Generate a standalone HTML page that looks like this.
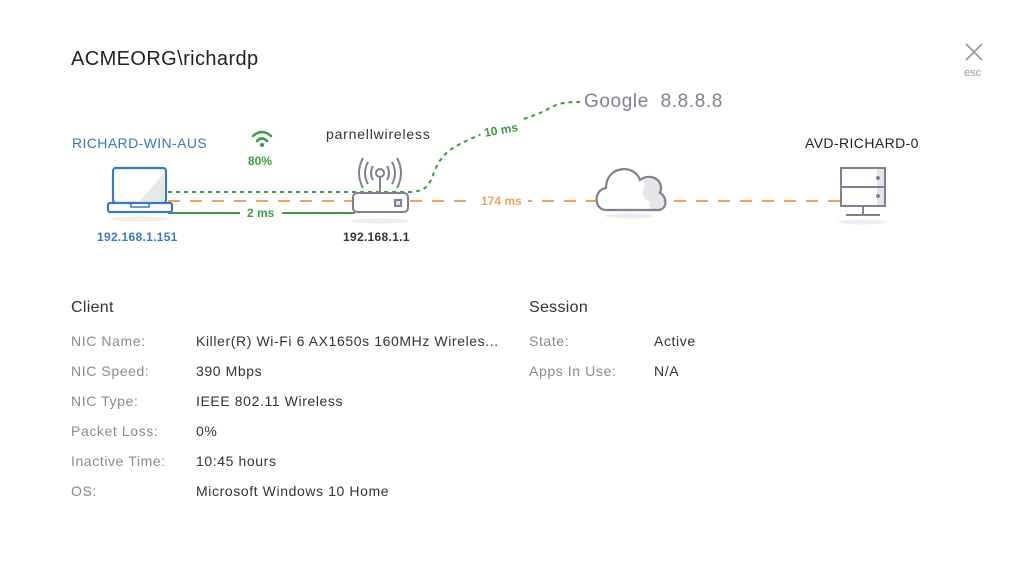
<!DOCTYPE html>
<html><head><meta charset="utf-8"><style>
body{margin:0;width:1024px;height:565px;background:#fff;font-family:"Liberation Sans",sans-serif;position:relative;overflow:hidden}
.t{position:absolute;white-space:nowrap}
.lbl{color:#8a8a8a;font-size:14px;letter-spacing:0.6px}
.val{color:#333;font-size:14px;letter-spacing:0.6px}
</style></head><body>
<div class="t" style="left:71px;top:48px;font-size:20px;color:#222;letter-spacing:0.4px">ACMEORG\richardp</div>
<div class="t" style="left:964px;top:42px;width:20px;text-align:center">
<svg width="20" height="20"><path d="M2 2L18 18M18 2L2 18" stroke="#999" stroke-width="1.6"/></svg></div>
<div class="t" style="left:964px;top:67px;font-size:11px;color:#999">esc</div>

<svg class="t" style="left:0;top:0" width="1024" height="260">
<path d="M168 192 L408 192 C440 192 425 170 450 150 C480 130 530 120 550 108 C560 102 570 102 580 102" fill="none" stroke="#3f9a43" stroke-width="2" stroke-dasharray="4 4"/>
<line x1="168" y1="201" x2="840" y2="201" stroke="#f0a25d" stroke-width="2" stroke-dasharray="12 10"/>
<line x1="168" y1="213" x2="355" y2="213" stroke="#3f9a43" stroke-width="2"/>
<!-- laptop -->
<ellipse cx="140" cy="219" rx="30" ry="2.5" fill="#eee"/>
<rect x="113" y="168" width="53" height="35" rx="3" fill="#fff" stroke="#3b78c0" stroke-width="2.2"/>
<path d="M165 172 L165 201 L140 201 Z" fill="#e8e8ea"/>
<rect x="108" y="203" width="64" height="9" rx="2" fill="#fff" stroke="#3b78c0" stroke-width="2.2"/>
<rect x="131" y="203" width="18" height="4" fill="none" stroke="#3b78c0" stroke-width="1.5"/>
<!-- wifi -->
<g fill="none" stroke="#3f9a43" stroke-width="2.5" stroke-linecap="round">
<path d="M253 136 Q262 128 271 136"/><path d="M257 141 Q262 136 267 141"/></g>
<circle cx="262" cy="145" r="2" fill="#3f9a43"/>
<!-- router -->
<ellipse cx="380" cy="221" rx="28" ry="2.5" fill="#eee"/>
<g fill="none" stroke="#7f8190" stroke-width="2">
<line x1="380" y1="178" x2="380" y2="193"/>
<circle cx="380" cy="173" r="4"/>
<path d="M373 166 Q369 173 373 180"/><path d="M387 166 Q391 173 387 180"/>
<path d="M368 162 Q362 173 368 184"/><path d="M392 162 Q398 173 392 184"/>
<path d="M363 158 Q355 173 363 188"/><path d="M397 158 Q405 173 397 188"/>
<rect x="353" y="193" width="55" height="19" rx="4" fill="#fff"/>
<rect x="395" y="200" width="6" height="6" fill="#e0e0e0"/></g>
<!-- cloud -->
<ellipse cx="629" cy="216" rx="24" ry="2.5" fill="#eee"/>
<path d="M658 210 C668 210 667 196 660 193 C665 180 650 172 640 180 C634 163 606 166 606 188 C594 190 593 210 606 210 Z" fill="#e6e6e8"/>
<path d="M645 185 C640 190 643 200 650 202 C648 206 650 209 652 210 L606 210 C594 210 593 190 606 188 C606 166 634 163 640 180 C643 181 645 183 645 185 Z" fill="#fff"/>
<path d="M606 210 C594 210 593 190 606 188 C606 166 634 163 640 180 C650 172 665 180 660 193 C667 196 668 210 658 210 Z" fill="none" stroke="#7f8190" stroke-width="2.2"/>
<!-- server -->
<ellipse cx="862" cy="222" rx="24" ry="2.5" fill="#eee"/>
<rect x="841" y="168" width="44" height="38" fill="#fff" stroke="#7f8190" stroke-width="2"/>
<rect x="877" y="169" width="7" height="36" fill="#e6e6e8"/>
<line x1="841" y1="187" x2="885" y2="187" stroke="#7f8190" stroke-width="2"/>
<circle cx="878" cy="178" r="2" fill="#7f8190"/><circle cx="878" cy="196" r="2" fill="#7f8190"/>
<line x1="863" y1="206" x2="863" y2="214" stroke="#7f8190" stroke-width="2"/>
<line x1="846" y1="215" x2="880" y2="215" stroke="#7f8190" stroke-width="2"/>
<rect x="240" y="205" width="42" height="16" fill="#fff"/>
<rect x="474" y="193" width="54" height="16" fill="#fff"/>
<rect x="480" y="122" width="42" height="16" fill="#fff" transform="rotate(-10 501 130)"/>
</svg>

<div class="t" style="left:72px;top:135px;font-size:14px;color:#3b78c0;letter-spacing:0.4px">RICHARD-WIN-AUS</div>
<div class="t" style="left:97px;top:230px;font-size:12px;color:#3b78c0;font-weight:bold;letter-spacing:0.3px">192.168.1.151</div>
<div class="t" style="left:248px;top:154px;font-size:12px;color:#3f9a43;font-weight:bold">80%</div>
<div class="t" style="left:326px;top:126px;font-size:14px;color:#333;letter-spacing:0.8px">parnellwireless</div>
<div class="t" style="left:343px;top:230px;font-size:12px;color:#333;font-weight:bold;letter-spacing:0.3px">192.168.1.1</div>
<div class="t" style="left:247px;top:206px;font-size:12px;color:#3f9a43;font-weight:bold">2 ms</div>
<div class="t" style="left:481px;top:194px;font-size:12px;color:#f0a25d;font-weight:bold">174 ms</div>
<div class="t" style="left:484px;top:123px;font-size:12px;color:#3f9a43;font-weight:bold;transform:rotate(-10deg)">10 ms</div>
<div class="t" style="left:584px;top:91px;font-size:19px;color:#7f8190;letter-spacing:0.6px">Google&nbsp; 8.8.8.8</div>
<div class="t" style="left:805px;top:135px;font-size:14px;color:#222;letter-spacing:0.4px">AVD-RICHARD-0</div>

<div class="t" style="left:71px;top:299px;font-size:16px;color:#333;letter-spacing:0.3px">Client</div>
<div class="t lbl" style="left:71px;top:333px">NIC Name:</div><div class="t val" style="left:196px;top:333px">Killer(R) Wi-Fi 6 AX1650s 160MHz Wireles...</div>
<div class="t lbl" style="left:71px;top:363px">NIC Speed:</div><div class="t val" style="left:196px;top:363px">390 Mbps</div>
<div class="t lbl" style="left:71px;top:393px">NIC Type:</div><div class="t val" style="left:196px;top:393px">IEEE 802.11 Wireless</div>
<div class="t lbl" style="left:71px;top:423px">Packet Loss:</div><div class="t val" style="left:196px;top:423px">0%</div>
<div class="t lbl" style="left:71px;top:453px">Inactive Time:</div><div class="t val" style="left:196px;top:453px">10:45 hours</div>
<div class="t lbl" style="left:71px;top:483px">OS:</div><div class="t val" style="left:196px;top:483px">Microsoft Windows 10 Home</div>

<div class="t" style="left:529px;top:299px;font-size:16px;color:#333;letter-spacing:0.3px">Session</div>
<div class="t lbl" style="left:529px;top:333px">State:</div><div class="t val" style="left:654px;top:333px">Active</div>
<div class="t lbl" style="left:529px;top:363px">Apps In Use:</div><div class="t val" style="left:654px;top:363px">N/A</div>
</body></html>
